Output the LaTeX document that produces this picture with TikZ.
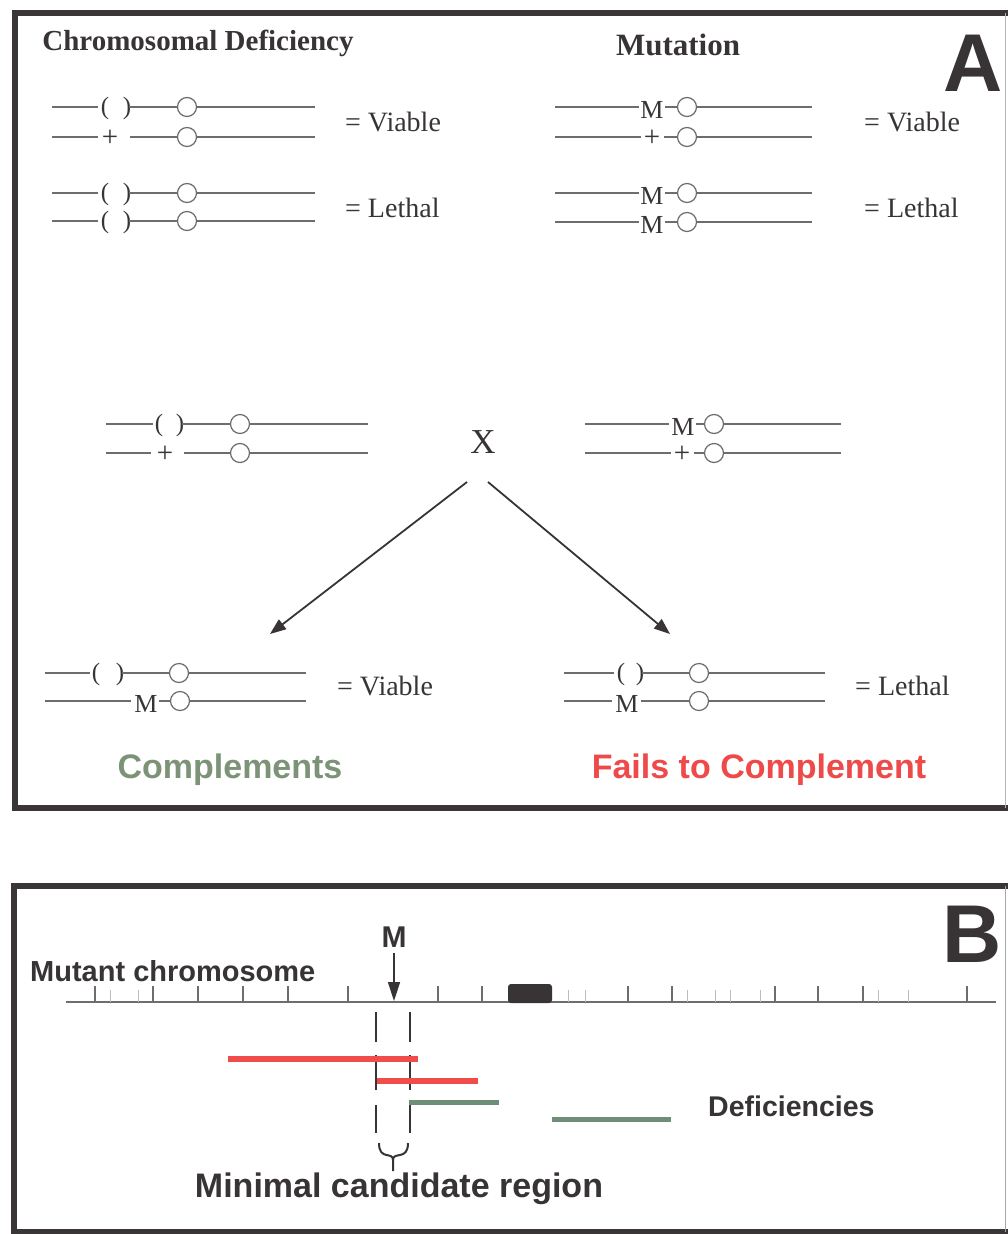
\documentclass[tikz,border=0pt]{standalone}
\usepackage{fontspec}
\setmainfont{Liberation Serif}
\setsansfont{Liberation Sans}
\usetikzlibrary{arrows.meta}

\definecolor{ink}{HTML}{383436}
\definecolor{linegray}{HTML}{6E6C6D}
\definecolor{framegray}{HTML}{3A3637}
\definecolor{delred}{HTML}{F04C4C}
\definecolor{delgreen}{HTML}{6F8E78}
\definecolor{compgreen}{HTML}{7D9377}
\definecolor{failred}{HTML}{EF4A4A}

% deletion chromosome: name, y, x0, xa, "(" x, ")" x, centromere x, x1
\newcommand\delrow[8]{%
  \draw[chrom] (#3,#2) -- (#4,#2);
  \node[paren] (#1l) at (#5,#2+1) {(};
  \node[paren] (#1r) at (#6,#2+1) {)};
  \draw[chrom] (#6+2,#2) -- (#7-9.5,#2);
  \node[cen] (#1c) at (#7,#2) {};
  \draw[chrom] (#1c.east) -- (#8,#2);
}
% wild-type chromosome: name, y, x0, xa, "+" x, xb, centromere x, x1
\newcommand\plusrow[8]{%
  \draw[chrom] (#3,#2) -- (#4,#2);
  \node[plusglyph] (#1p) at (#5,#2+1.5) {+};
  \draw[chrom] (#6,#2) -- (#7-9.5,#2);
  \node[cen] (#1c) at (#7,#2) {};
  \draw[chrom] (#1c.east) -- (#8,#2);
}
% mutant chromosome: name, y, x0, xa, "M" x, xb, centromere x, x1
\newcommand\mutrow[8]{%
  \draw[chrom] (#3,#2) -- (#4,#2);
  \node[glyph] (#1m) at (#5,#2+3) {M};
  \draw[chrom] (#6,#2) -- (#7-9.5,#2);
  \node[cen] (#1c) at (#7,#2) {};
  \draw[chrom] (#1c.east) -- (#8,#2);
}

\begin{document}
\begin{tikzpicture}[x=1pt,y=-1pt,
  chrom/.style={draw=linegray, line width=1.2pt},
  cen/.style={circle, draw=linegray, line width=1.2pt, minimum size=19pt, inner sep=0pt},
  glyph/.style={inner sep=0pt, text=ink, font=\fontsize{26}{26}\selectfont},
  plusglyph/.style={inner sep=0pt, text=ink, font=\fontsize{29}{29}\selectfont},
  paren/.style={inner sep=0pt, text=ink, font=\fontsize{25}{25}\selectfont},
  result/.style={anchor=west, inner sep=0pt, text=ink, font=\fontsize{28}{28}\selectfont},
  title/.style={inner sep=0pt, text=ink, font=\bfseries\fontsize{29}{29}\selectfont},
  bigletter/.style={inner sep=0pt, text=ink, font=\sffamily\bfseries\fontsize{82}{82}\selectfont},
  sanslabel/.style={inner sep=0pt, text=ink, font=\sffamily\bfseries\fontsize{29}{29}\selectfont},
  outcome/.style={inner sep=0pt, font=\sffamily\bfseries\fontsize{34}{34}\selectfont},
  panel/.style={draw=framegray, line width=6pt},
  cross/.style={draw=ink, line width=1.8pt, -{Triangle[length=16pt,width=12pt]}},
  tick/.style={draw=linegray, line width=1.3pt},
  faint/.style={draw=linegray!45, line width=1pt},
  bound/.style={draw=ink, line width=2.6pt},
  bar/.style={line width=6pt},
  bracepath/.style={draw=ink, line width=2pt}]

\path[use as bounding box, fill=white] (0,0) rectangle (1008,1234);

% ---------------- panel A ----------------
\draw[panel] (1012,13) -- (15,13) -- (15,808) -- (1012,808);
\draw[draw=linegray!50, line width=1pt] (1005,13) -- (1005,808);

\node[bigletter] (lblA) at (973,63) {A};
\node[title] (tdef) at (198,43) {Chromosomal Deficiency};
\node[title, font=\bfseries\fontsize{31}{31}\selectfont] (tmut) at (678,45) {Mutation};

% deficiency homozygotes / heterozygotes
\delrow{d1}{107}{52}{98}{105}{127}{187}{315}
\plusrow{d2}{137}{52}{98}{110}{130}{187}{315}
\node[result] (rv1) at (345,122) {= Viable};
\delrow{d3}{193}{52}{98}{105}{127}{187}{315}
\delrow{d4}{221}{52}{98}{105}{127}{187}{315}
\node[result] (rl1) at (345,208) {= Lethal};

% mutation homozygotes / heterozygotes
\mutrow{m1}{107}{555}{639}{652}{665}{687}{812}
\plusrow{m2}{137}{555}{641}{652}{664}{687}{812}
\node[result] (rv2) at (864,122) {= Viable};
\mutrow{m3}{193}{555}{639}{652}{665}{687}{812}
\mutrow{m4}{222}{555}{639}{652}{665}{687}{812}
\node[result] (rl2) at (864,208) {= Lethal};

% the cross
\delrow{p1}{424}{106}{153}{159}{180}{240}{368}
\plusrow{p2}{453}{106}{151}{165}{184}{240}{368}
\mutrow{p3}{424}{585}{669}{683}{696}{714}{841}
\plusrow{p4}{453}{585}{671}{682}{694}{714}{841}
\node[inner sep=0pt, text=ink, font=\fontsize{35}{35}\selectfont] (cx) at (483,442) {X};

\coordinate (aLs) at (467,482);
\coordinate (aLe) at (270,634);
\coordinate (aRs) at (488,482);
\coordinate (aRe) at (670,634);
\draw[cross] (aLs) -- (aLe);
\draw[cross] (aRs) -- (aRe);

% progeny
\delrow{o1}{673}{45}{90}{96}{120}{179}{306}
\mutrow{o2}{701}{45}{131}{146}{159}{180}{306}
\node[result] (rv3) at (337,686) {= Viable};
\delrow{o3}{673}{564}{614}{621}{640}{699}{825}
\mutrow{o4}{701}{564}{612}{627}{641}{699}{825}
\node[result] (rl3) at (855,686) {= Lethal};

\node[outcome, text=compgreen] (comp) at (230,770) {Complements};
\node[outcome, text=failred] (fail) at (759,770) {Fails to Complement};

% ---------------- panel B ----------------
\draw[panel] (1012,886) -- (14,886) -- (14,1232) -- (1012,1232);
\draw[draw=linegray!60, line width=1pt] (1005,886) -- (1005,1232);

\node[bigletter] (lblB) at (972,934) {B};
\node[sanslabel, anchor=west] (mchr) at (30,971) {Mutant chromosome};

% chromosome with bands
\draw[draw=linegray, line width=1.5pt] (66,1002) -- (996,1002);
\foreach \t in {95,153,198,243,288,348,438,482,628,672,775,818,863,967}
  \draw[tick] (\t,986) -- (\t,1002);
\foreach \t in {110,138,568,585,687,715,730,760,878,908}
  \draw[faint] (\t,990) -- (\t,1002);
\fill[ink, rounded corners=3pt] (508,984) rectangle (552,1003);

% mutation position
\node[sanslabel, font=\sffamily\bfseries\fontsize{30}{30}\selectfont] (mlab) at (394,937) {M};
\coordinate (mtop) at (394,953);
\coordinate (mtip) at (394,1001);
\draw[draw=ink, line width=1.4pt, -{Triangle[length=19pt,width=12pt]}] (mtop) -- (mtip);

% boundaries of the minimal region
\foreach \x in {376,410} {
  \draw[bound] (\x,1012) -- (\x,1042);
  \draw[bound] (\x,1055) -- (\x,1090);
}
\draw[bound] (376,1105) -- (376,1133);
\draw[bound] (410,1133) -- (410,1102);

% deficiencies
\draw[bar, delred] (228,1059) -- (418,1059);
\draw[bar, delred] (377,1081) -- (478,1081);
\draw[bar, delgreen, line width=5pt] (409,1102) -- (499,1102);
\draw[bar, delgreen, line width=5pt] (552,1119) -- (671,1119);
\node[sanslabel, anchor=west, font=\sffamily\bfseries\fontsize{28.5}{28.5}\selectfont] (defs) at (708,1106) {Deficiencies};

% brace under the region
\draw[bracepath] (379,1143) .. controls (379,1161) and (393,1151) .. (393,1160) -- (393,1171);
\draw[bracepath] (408,1143) .. controls (408,1161) and (393,1151) .. (393,1160);
\node[sanslabel, font=\sffamily\bfseries\fontsize{34}{34}\selectfont] (mcr) at (399,1189) {Minimal candidate region};

\end{tikzpicture}
\end{document}
